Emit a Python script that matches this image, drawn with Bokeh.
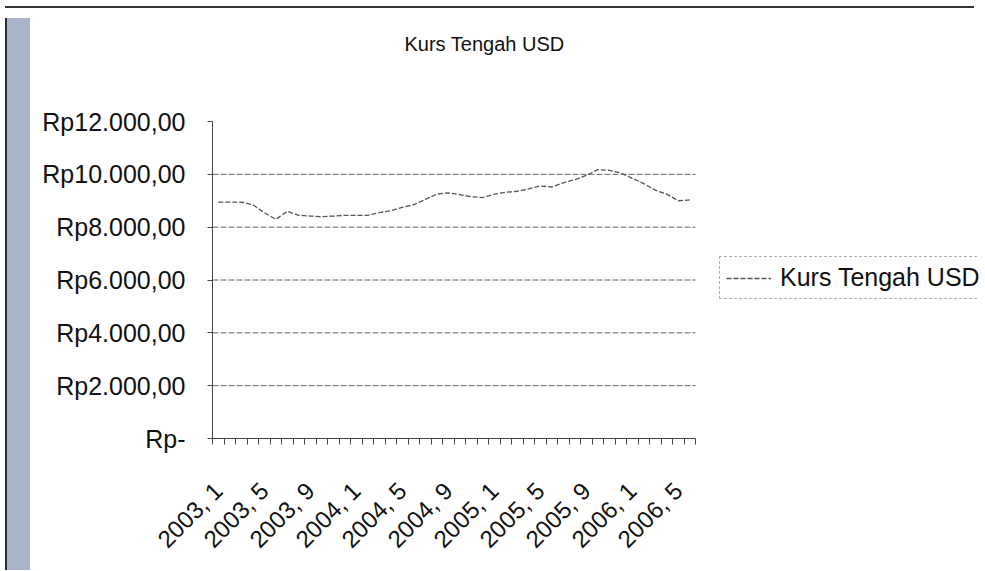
import math
from bokeh.plotting import figure
from bokeh.models import (Range1d, FixedTicker, Legend, LegendItem, Div, Label)
from bokeh.layouts import column, row
from bokeh.embed import file_html
from bokeh.resources import INLINE

# ---------------- data ----------------
chart_title = "Kurs Tengah USD"
series_name = "Kurs Tengah USD"
years = [2003, 2004, 2005, 2006]
months_per_year = [12, 12, 12, 6]
periods = [f"{y}, {m}" for y, n in zip(years, months_per_year) for m in range(1, n + 1)]

kurs_tengah = [
    8950, 8950, 8950, 8850, 8550, 8300, 8600, 8450, 8420, 8400, 8420, 8450,   # 2003
    8450, 8450, 8550, 8620, 8750, 8850, 9050, 9250, 9300, 9230, 9150, 9120,   # 2004
    9250, 9320, 9360, 9450, 9560, 9520, 9680, 9800, 9960, 10180, 10150, 10050,  # 2005
    9850, 9650, 9400, 9250, 9000, 9030,                                       # 2006
]
y_ticks = [0, 2000, 4000, 6000, 8000, 10000, 12000]
y_tick_labels = ["Rp-", "Rp2.000,00", "Rp4.000,00", "Rp6.000,00",
                 "Rp8.000,00", "Rp10.000,00", "Rp12.000,00"]
label_step = 4

FONT = "Liberation Sans"
AVAIL_W, AVAIL_H = 969, 555          # window minus the 8px page margin
TOP_H, LEFT_W = 3, 25                # scanned-page border strips
W, H = AVAIL_W - LEFT_W, AVAIL_H - TOP_H

# plot-area geometry (pixels inside the figure)
BORDER_LEFT, BORDER_BOTTOM = 177, 127
DATA_W, DATA_H = 483, 317            # pixel size of the category/value area
frame_w = W - BORDER_LEFT
frame_h = H - BORDER_BOTTOM

n = len(periods)
x_idx = list(range(n))
x_label_idx = x_idx[::label_step]
x_end = -0.5 + n * frame_w / DATA_W          # room on the right for the legend
y_end = y_ticks[-1] * frame_h / DATA_H        # room on top for the title

p = figure(width=W, height=H, output_backend="svg", toolbar_location=None,
           title=None,
           x_range=Range1d(-0.5, x_end), y_range=Range1d(0, y_end),
           min_border_left=BORDER_LEFT, min_border_right=0,
           min_border_top=0, min_border_bottom=BORDER_BOTTOM)
p.background_fill_color = "white"
p.border_fill_color = "white"
p.outline_line_color = None

# title (placed above the value area, inside the drawing frame)
p.add_layout(Label(x=369, y=30, x_units="canvas", y_units="canvas",
                   text=chart_title, text_font=FONT, text_font_size="20px",
                   text_color="#111111", text_align="left",
                   text_baseline="middle"))

# horizontal grid lines only across the category area
p.xgrid.visible = False
p.ygrid.visible = False
grid_vals = y_ticks[1:-1]
p.segment(x0=[-0.5] * len(grid_vals), x1=[n - 0.5] * len(grid_vals),
          y0=grid_vals, y1=grid_vals,
          line_color="#666666", line_width=1, line_dash="6 2")

# line
line = p.line(x=x_idx, y=kurs_tengah, line_color="#555555", line_width=1.3,
              line_dash="5 2")

# axes
xa = p.xaxis[0]
xa.bounds = (-0.5, n - 0.5)
xa.ticker = FixedTicker(ticks=x_label_idx,
                        minor_ticks=[i - 0.5 for i in range(n + 1)])
xa.major_label_overrides = {i: periods[i] for i in x_label_idx}
xa.major_label_orientation = math.pi / 4
xa.major_tick_out = 0
xa.major_tick_in = 0
xa.minor_tick_out = 6
xa.minor_tick_in = 0
xa.major_label_standoff = 42

ya = p.yaxis[0]
ya.bounds = (0, y_ticks[-1])
ya.ticker = FixedTicker(ticks=y_ticks, minor_ticks=[])
ya.major_label_overrides = {t: s for t, s in zip(y_ticks, y_tick_labels)}
ya.major_tick_out = 5
ya.major_tick_in = 0
ya.major_label_standoff = 22

for ax in (xa, ya):
    ax.axis_line_color = "#444444"
    ax.axis_line_width = 1
    ax.major_tick_line_color = "#444444"
    ax.minor_tick_line_color = "#444444"
    ax.major_label_text_font = FONT
    ax.major_label_text_color = "#111111"
xa.major_label_text_font_size = "24px"
ya.major_label_text_font_size = "25px"

# legend, to the right of the category area (its right side runs off the page)
legend = Legend(items=[LegendItem(label=series_name, renderers=[line])],
                location=(507, 139), orientation="vertical",
                padding=6, margin=0, spacing=0,
                glyph_width=45, glyph_height=20, label_standoff=9,
                label_text_font=FONT, label_text_font_size="25px",
                label_text_color="#111111",
                border_line_color="#666666", border_line_dash="6 2",
                background_fill_alpha=0)
p.add_layout(legend, "center")

# scanned page border: top rule and left blue-grey strip
top_rule = Div(width=AVAIL_W, height=TOP_H, styles={
    "background": "linear-gradient(to bottom, #ffffff 0px, #ffffff 1px, #333333 1px, #333333 3px)"})
left_strip = Div(width=LEFT_W, height=H, styles={
    "background": "linear-gradient(to right, #2a2f3a 0px, #2a2f3a 2px, #a7b3c9 2px, #a7b3c9 25px)"})

layout = column(top_rule, row(left_strip, p, spacing=0), spacing=0)

open("out.html", "w").write(file_html(layout, INLINE))
